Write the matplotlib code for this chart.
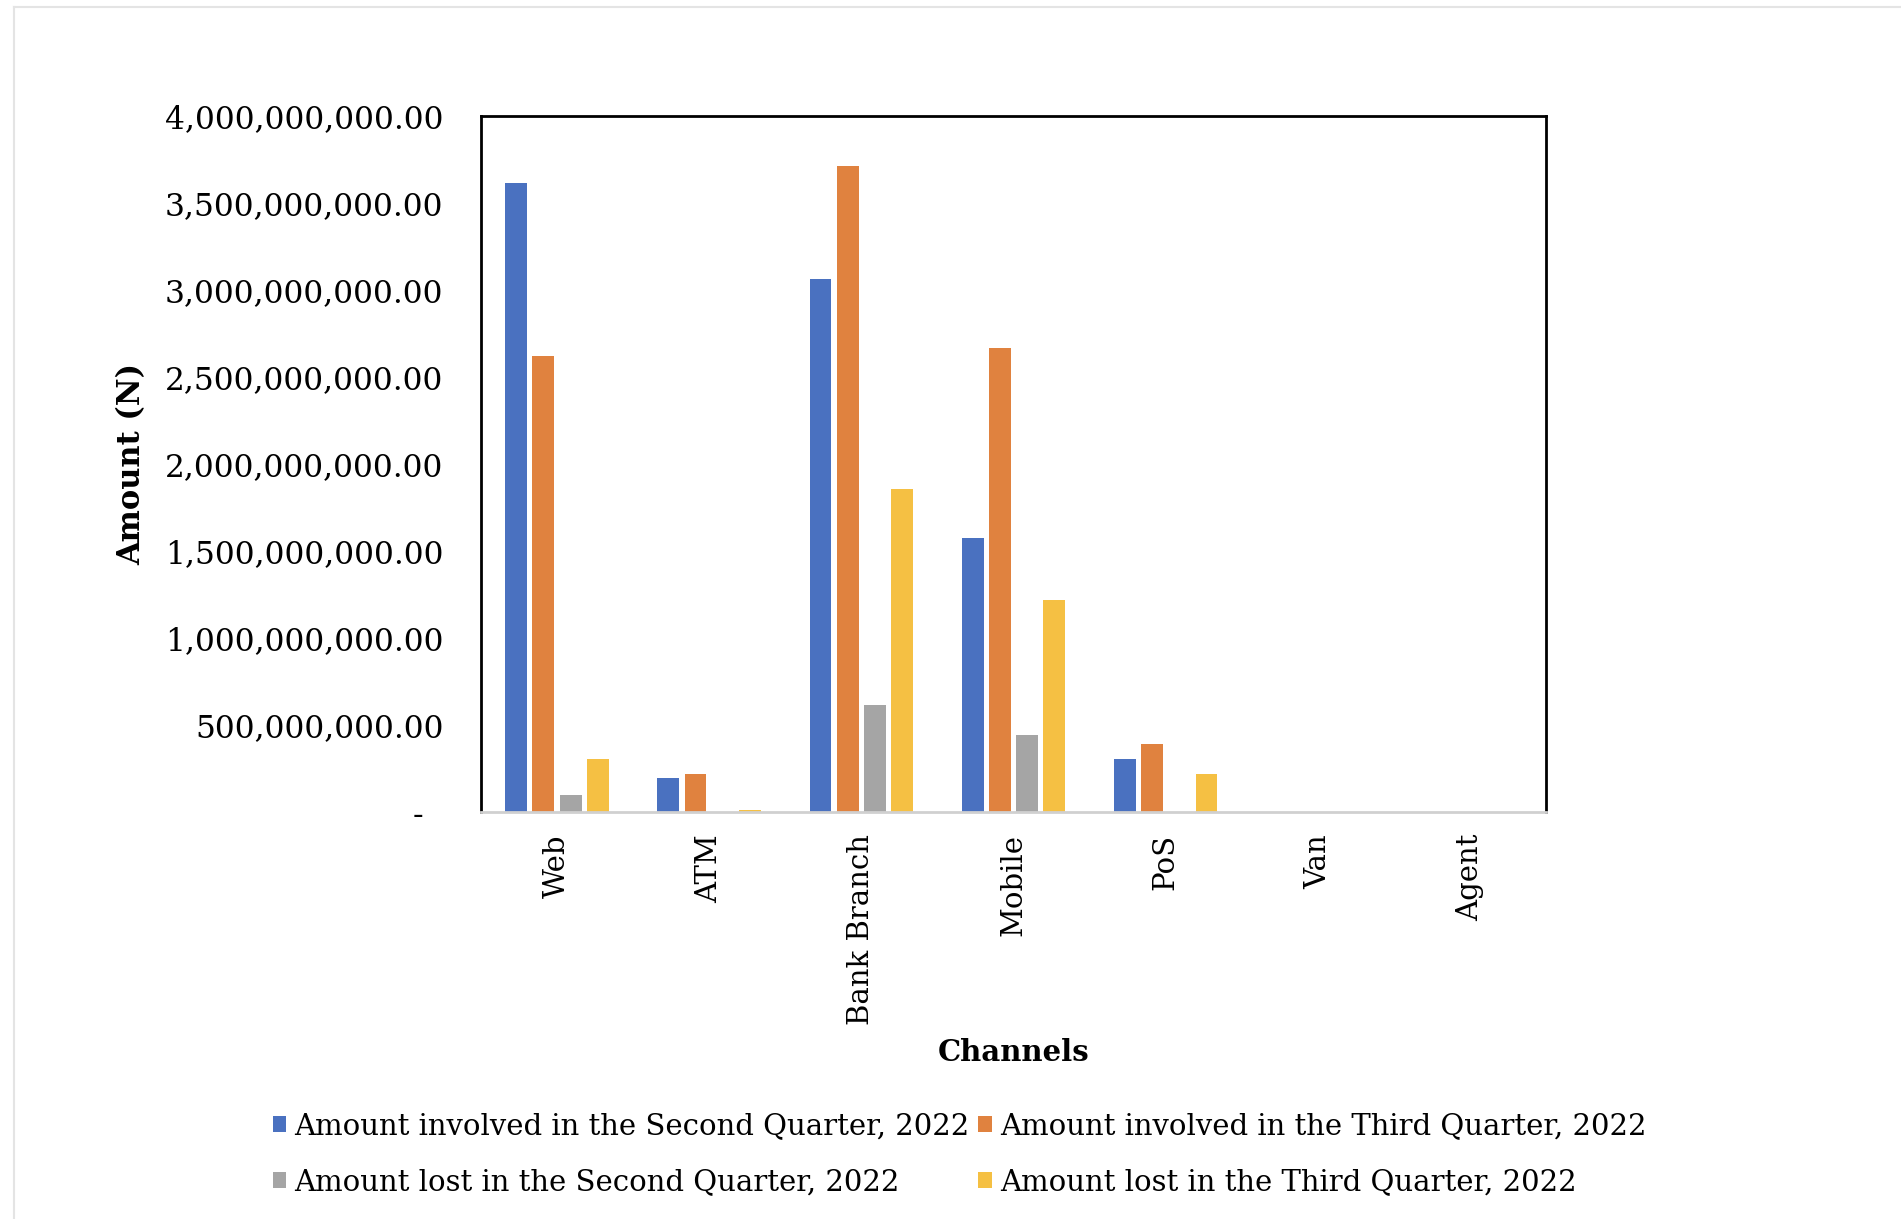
import numpy as np
import matplotlib
matplotlib.use("Agg")
import matplotlib.pyplot as plt
from matplotlib.ticker import FuncFormatter, MultipleLocator
from matplotlib.lines import Line2D

plt.rcParams['font.family'] = ['DejaVu Serif']

# fraud amounts by channel (Naira)
channels = ['Web', 'ATM', 'Bank Branch', 'Mobile', 'PoS', 'Van', 'Agent']
involved_q2 = [3.617e9, 0.197e9, 3.066e9, 1.575e9, 0.305e9, 0, 0]
involved_q3 = [2.620e9, 0.219e9, 3.714e9, 2.669e9, 0.388e9, 0, 0]
lost_q2 = [0.097e9, 0, 0.612e9, 0.443e9, 0, 0, 0]
lost_q3 = [0.305e9, 0.011e9, 1.854e9, 1.220e9, 0.219e9, 0, 0]

series = [
    ('Amount involved in the Second Quarter, 2022', involved_q2, '#4a71c0'),
    ('Amount involved in the Third Quarter, 2022', involved_q3, '#e0823f'),
    ('Amount lost in the Second Quarter, 2022', lost_q2, '#a5a5a5'),
    ('Amount lost in the Third Quarter, 2022', lost_q3, '#f5c043'),
]

fig = plt.figure(figsize=(19.01, 12.19), dpi=100)
ax = fig.add_axes([0.253, 0.334, 0.5603, 0.5708])

x = np.arange(len(channels))
width = 0.1435
step = 0.179
bars = []
for i, (name, vals, col) in enumerate(series):
    b = ax.bar(x + (i - 1.5) * step, vals, width, color=col, label=name, zorder=2)
    bars.append(b)

ax.set_xlim(-0.5, len(channels) - 0.5)
ax.set_ylim(0, 4e9)
ax.yaxis.set_major_locator(MultipleLocator(5e8))


def money(v, pos):
    if v == 0:
        return '-  '
    return '{:,.2f}'.format(v)


ax.yaxis.set_major_formatter(FuncFormatter(money))
ax.set_xticks(x)
ax.set_xticklabels(channels, rotation=90)
ax.tick_params(axis='y', length=0, pad=27, labelsize=22.5)
ax.tick_params(axis='x', length=0, pad=16, labelsize=21)

for s in ['left', 'top', 'right']:
    ax.spines[s].set_color('black')
    ax.spines[s].set_linewidth(2)
ax.spines['bottom'].set_color('#d0d0d0')
ax.spines['bottom'].set_linewidth(2)

ax.set_ylabel('Amount (N)', fontsize=22, fontweight='bold')
ax.yaxis.set_label_coords(-0.313, 0.5)
ax.set_xlabel('Channels', fontsize=21, fontweight='bold')
ax.xaxis.set_label_coords(0.5, -0.325)

# row 1: Q2/Q3 involved, row 2: Q2/Q3 lost
order = [0, 2, 1, 3]
fig.legend([bars[i] for i in order], [series[i][0] for i in order],
           ncol=2, loc='upper left', bbox_to_anchor=(0.1434, 0.0877),
           frameon=False, fontsize=21, handlelength=0.45, handleheight=0.45,
           handletextpad=0.3, columnspacing=0.3, labelspacing=0.96,
           borderaxespad=0, borderpad=0)

# thin page border
fig.add_artist(Line2D([0.0075, 1.0], [0.9945, 0.9945], color='#e4e4e4', lw=1.5))
fig.add_artist(Line2D([0.0075, 0.0075], [0.0, 0.9945], color='#e4e4e4', lw=1.5))

fig.savefig('out.png', dpi=100)
